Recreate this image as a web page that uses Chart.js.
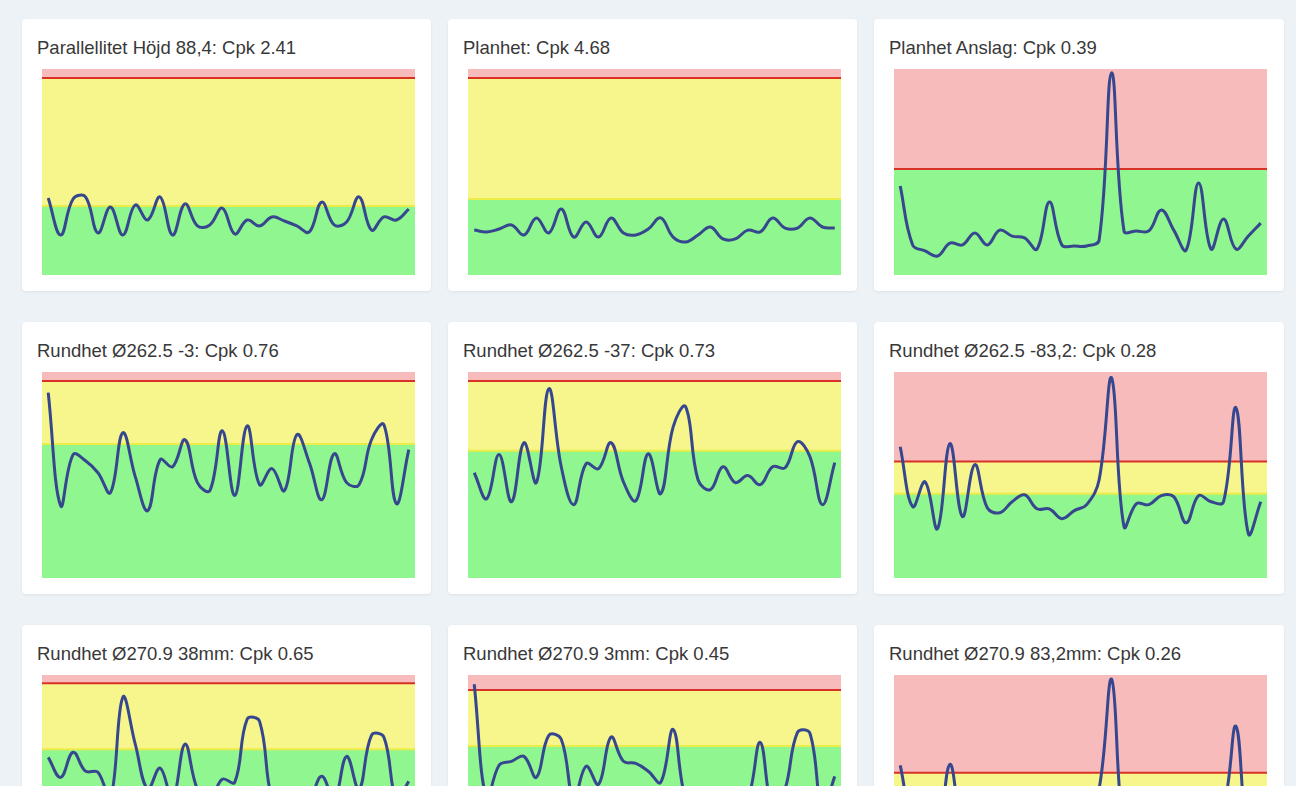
<!DOCTYPE html>
<html>
<head>
<meta charset="utf-8">
<title>Cpk översikt</title>
<script src="https://cdn.jsdelivr.net/npm/chart.js@4/dist/chart.umd.min.js"></script>
<style>
  html, body { margin: 0; padding: 0; }
  body {
    background: #edf2f7;
    font-family: "Liberation Sans", Arial, sans-serif;
    width: 1296px;
    height: 786px;
    overflow: hidden;
  }
  .grid {
    display: grid;
    grid-template-columns: 409px 409px 410px;
    grid-auto-rows: 272px;
    column-gap: 17px;
    row-gap: 31px;
    padding: 19px 0 0 22px;
  }
  .card {
    position: relative;
    background: #fff;
    border-radius: 4px;
    box-shadow: 0 1px 3px rgba(0, 0, 0, 0.07);
  }
  .card h3 {
    position: absolute;
    left: 15px;
    top: 18px;
    margin: 0;
    font-size: 18.5px;
    line-height: 21px;
    font-weight: normal;
    color: #383838;
    white-space: nowrap;
  }
  .card .plot {
    position: absolute;
    left: 20px;
    top: 50px;
    width: 373px;
    height: 206px;
  }
</style>
</head>
<body>
<div class="grid" id="grid"></div>

<script>
// sample numbers (x axis)
const sampleLabels = [1, 2, 3, 4, 5, 6, 7, 8, 9, 10, 11, 12, 13, 14, 15,
  16, 17, 18, 19, 20, 21, 22, 23, 24, 25, 26, 27, 28, 29, 30];

const titles = [
  'Parallellitet Höjd 88,4: Cpk 2.41',
  'Planhet: Cpk 4.68',
  'Planhet Anslag: Cpk 0.39',
  'Rundhet Ø262.5 -3: Cpk 0.76',
  'Rundhet Ø262.5 -37: Cpk 0.73',
  'Rundhet Ø262.5 -83,2: Cpk 0.28',
  'Rundhet Ø270.9 38mm: Cpk 0.65',
  'Rundhet Ø270.9 3mm: Cpk 0.45',
  'Rundhet Ø270.9 83,2mm: Cpk 0.26'
];

// measurements, in % of the plotted range
const parallellitetHojd = [37.4, 19.4, 36.9, 37.9, 20.4, 33.0, 19.4, 34.0, 26.7, 37.9, 19.4, 34.5, 23.8, 24.3, 32.5,
  19.9, 26.7, 23.8, 28.2, 26.2, 23.8, 20.9, 35.4, 24.3, 25.7, 37.9, 21.8, 28.2, 26.7, 32.0];
const planhet = [21.8, 20.9, 22.3, 24.3, 19.4, 27.7, 20.4, 32.0, 18.4, 25.7, 18.4, 27.7, 20.4, 19.4, 22.3,
  27.7, 18.4, 16.0, 19.4, 23.3, 17.5, 17.5, 21.8, 20.9, 27.7, 22.8, 22.8, 27.7, 23.3, 22.8];
const planhetAnslag = [43.2, 14.6, 11.7, 9.2, 15.5, 14.6, 20.4, 14.6, 21.8, 18.9, 18.0, 12.6, 35.4, 14.6, 14.1,
  14.1, 17.0, 98.1, 21.4, 21.4, 21.4, 31.6, 21.8, 12.1, 44.7, 12.6, 27.2, 12.6, 18.9, 25.2];
const rundhet262_3 = [90.0, 35.1, 59.9, 56.9, 51.1, 41.4, 70.5, 49.2, 32.7, 57.4, 54.0, 67.1, 46.3, 42.4, 71.5,
  40.0, 73.9, 45.3, 53.1, 42.4, 69.6, 56.0, 38.0, 60.3, 46.3, 45.3, 67.1, 74.4, 36.1, 62.3];
const rundhet262_37 = [51.1, 38.5, 59.9, 37.0, 65.7, 46.3, 91.9, 54.0, 35.6, 55.5, 53.1, 65.7, 46.7, 37.5, 60.3,
  40.9, 73.4, 83.2, 47.7, 42.9, 54.0, 46.3, 49.7, 45.3, 54.0, 53.5, 66.2, 58.9, 35.6, 56.0];
const rundhet262_83 = [63.7, 34.6, 46.7, 23.9, 65.2, 29.8, 55.0, 34.1, 31.7, 37.0, 40.4, 33.6, 33.6, 28.8, 32.7,
  35.6, 47.7, 97.2, 24.9, 36.1, 35.6, 40.0, 39.5, 26.8, 40.0, 37.0, 37.0, 82.7, 21.5, 37.0];
const rundhet270_38 = [60.0, 50.3, 62.5, 53.3, 52.8, 39.7, 89.2, 66.4, 44.6, 54.8, 39.7, 66.4, 44.6, 39.7, 49.4,
  47.9, 78.5, 77.5, 39.7, 34.8, 37.2, 39.7, 50.8, 39.7, 60.5, 44.6, 70.7, 69.8, 39.7, 48.4];
const rundhet270_3 = [95.5, 39.7, 56.2, 58.1, 60.5, 50.3, 70.7, 68.8, 39.7, 55.7, 46.9, 69.8, 58.1, 57.1, 53.3,
  47.9, 73.6, 39.7, 34.8, 37.2, 34.8, 37.2, 39.7, 67.3, 34.8, 44.6, 72.2, 71.7, 34.8, 50.8];
const rundhet270_83 = [56.1, 30.0, 40.0, 22.0, 56.6, 28.0, 44.0, 32.0, 30.0, 35.0, 38.0, 32.0, 31.0, 27.0, 31.0,
  34.0, 45.0, 98.0, 24.0, 34.0, 34.0, 38.0, 37.0, 25.0, 38.0, 35.0, 36.0, 75.1, 21.0, 35.0];

// upper limit (red line) and warning limit (yellow/green border) per chart
const upperLimits = [95.6, 95.6, 51.5, 95.6, 95.6, 56.6, 96.0, 92.7, 52.6];
const warnLimits = [33.5, 36.9, 51.5, 65.0, 61.8, 40.9, 63.9, 65.5, 40.0];

const series = [parallellitetHojd, planhet, planhetAnslag, rundhet262_3, rundhet262_37,
  rundhet262_83, rundhet270_38, rundhet270_3, rundhet270_83];

const PINK = 'rgb(247, 187, 187)';
const YELLOW = 'rgb(246, 246, 140)';
const GREEN = 'rgb(144, 246, 144)';

const grid = document.getElementById('grid');
const firstX = -0.5;
const lastX = sampleLabels.length - 0.5;

// a flat line across the whole plot at a given value
function flat(v) {
  return [{ x: firstX, y: v }, { x: lastX, y: v }];
}

series.forEach((values, idx) => {
  const card = document.createElement('div');
  card.className = 'card';
  const h = document.createElement('h3');
  h.textContent = titles[idx];
  card.appendChild(h);
  const wrap = document.createElement('div');
  wrap.className = 'plot';
  const canvas = document.createElement('canvas');
  canvas.width = 373;
  canvas.height = 206;
  wrap.appendChild(canvas);
  card.appendChild(wrap);
  grid.appendChild(card);

  const usl = upperLimits[idx];
  const warn = warnLimits[idx];

  new Chart(canvas.getContext('2d'), {
    type: 'line',
    data: {
      datasets: [
        {
          label: 'Mätvärde',
          data: values.map((v, i) => ({ x: i, y: v })),
          borderColor: '#37478f',
          borderWidth: 3,
          tension: 0.4,
          pointRadius: 0,
          fill: false,
          order: 0
        },
        {
          label: 'Övre gräns',
          data: flat(usl),
          borderColor: '#d93128',
          borderWidth: 2,
          backgroundColor: PINK,
          pointRadius: 0,
          tension: 0,
          fill: 'end',
          order: 1
        },
        {
          label: 'Varning',
          data: flat(warn),
          borderColor: warn === usl ? 'rgba(0,0,0,0)' : 'rgb(236, 236, 70)',
          borderWidth: 2,
          backgroundColor: YELLOW,
          pointRadius: 0,
          tension: 0,
          fill: { value: usl },
          order: 2
        },
        {
          label: 'OK',
          data: flat(warn),
          borderWidth: 0,
          backgroundColor: GREEN,
          pointRadius: 0,
          tension: 0,
          fill: 'start',
          order: 3
        }
      ]
    },
    options: {
      responsive: false,
      animation: false,
      layout: { padding: 0 },
      scales: {
        x: { type: 'linear', min: firstX, max: lastX, display: false },
        y: { min: 0, max: 100, display: false }
      },
      plugins: {
        legend: { display: false },
        tooltip: { enabled: false }
      }
    }
  });
});
</script>
</body>
</html>
